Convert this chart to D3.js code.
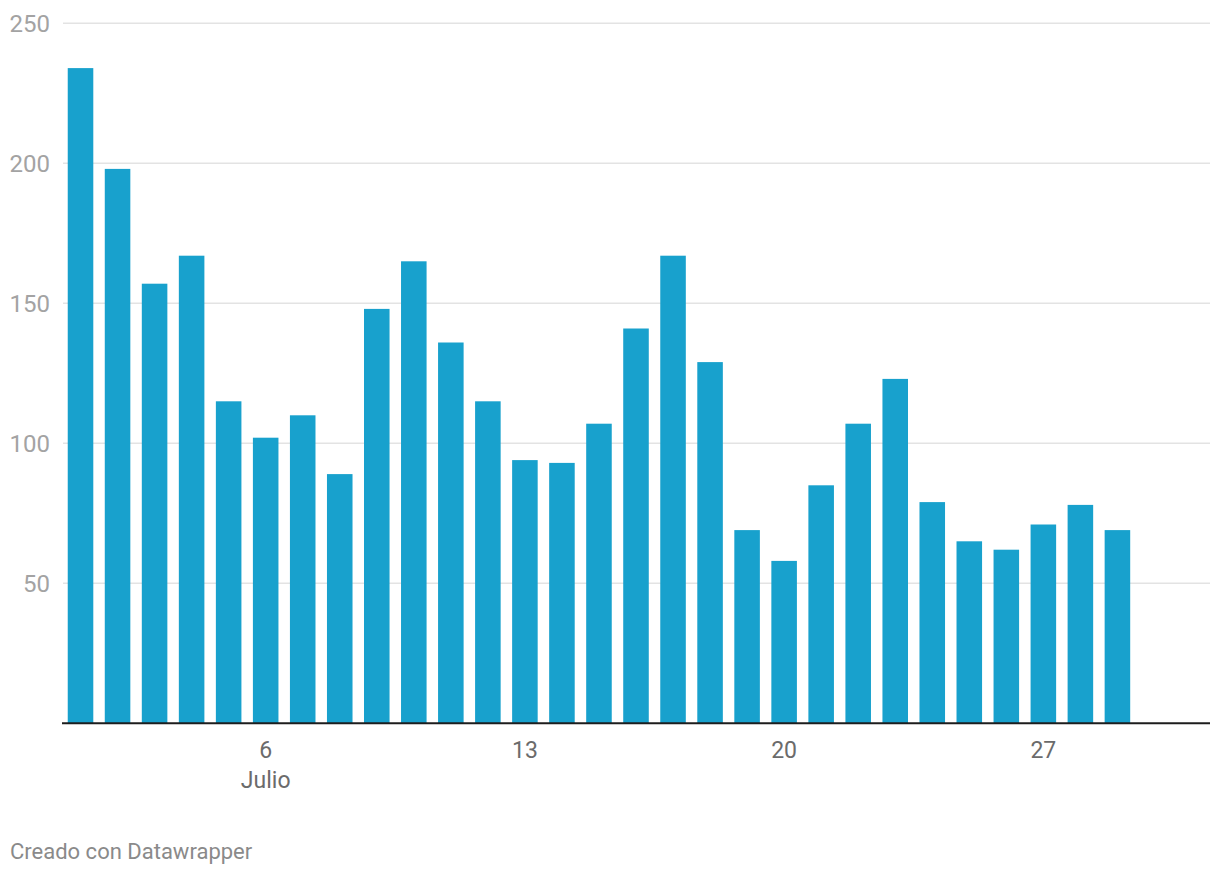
<!DOCTYPE html>
<html>
<head>
<meta charset="utf-8">
<script src="https://cdn.jsdelivr.net/npm/d3@7"></script>
<style>
  body { margin: 0; background: #fff; font-family: Roboto, "Noto Sans", sans-serif; }
</style>
</head>
<body>
<div id="chart"></div>
<script>
// daily values, July
var days = ["2020-07-01","2020-07-02","2020-07-03","2020-07-04","2020-07-05","2020-07-06","2020-07-07",
	"2020-07-08","2020-07-09","2020-07-10","2020-07-11","2020-07-12","2020-07-13","2020-07-14",
	"2020-07-15","2020-07-16","2020-07-17","2020-07-18","2020-07-19","2020-07-20","2020-07-21",
	"2020-07-22","2020-07-23","2020-07-24","2020-07-25","2020-07-26","2020-07-27","2020-07-28","2020-07-29"];
var values = [234, 198, 157, 167, 115, 102, 110, 89, 148, 165, 136, 115, 94, 93, 107,
	141, 167, 129, 69, 58, 85, 107, 123, 79, 65, 62, 71, 78, 69];
var yTicks = [50, 100, 150, 200, 250];
var xTickDays = ["2020-07-06", "2020-07-13", "2020-07-20", "2020-07-27"];
var monthLabel = "Julio";
var footer = "Creado con Datawrapper";

var width = 1220, height = 876;
var parse = d3.utcParse("%Y-%m-%d");
var data = days.map(function (d, i) { return { date: parse(d), value: values[i] }; });

// plot bounds (note: "top" is a reserved window prop, so use other names)
var plotLeft = 62, plotRight = 1210, plotTop = 23.3, plotBottom = 723.3;

var x = d3.scaleUtc()
	.domain([d3.utcHour.offset(parse("2020-07-01"), -12), d3.utcHour.offset(parse("2020-07-31"), 12)])
	.range([plotLeft, plotRight]);
var y = d3.scaleLinear().domain([0, 250]).range([plotBottom, plotTop]);

var dayW = x(parse("2020-07-02")) - x(parse("2020-07-01"));
var barW = dayW * 0.69;

var svg = d3.select('#chart').append('svg')
	.attr('width', width)
	.attr('height', height);

// gridlines + y labels
var grid = svg.append('g').attr('class', 'grid');
grid.selectAll('line').data(yTicks).enter().append('line')
	.attr('x1', plotLeft + 1).attr('x2', plotRight)
	.attr('y1', function (d) { return y(d); })
	.attr('y2', function (d) { return y(d); })
	.attr('stroke', '#e3e3e3')
	.attr('stroke-width', 1.5);
grid.selectAll('text').data(yTicks).enter().append('text')
	.attr('x', 50)
	.attr('y', function (d) { return y(d); })
	.attr('dy', '0.36em')
	.attr('text-anchor', 'end')
	.attr('fill', '#a3a3a3')
	.attr('font-size', 24)
	.text(function (d) { return d; });

// bars
svg.append('g').selectAll('rect').data(data).enter().append('rect')
	.attr('x', function (d) { return x(d.date) - barW / 2; })
	.attr('width', barW)
	.attr('y', function (d) { return y(d.value); })
	.attr('height', function (d) { return y(0) - y(d.value); })
	.attr('fill', '#18a1cd');

// baseline
svg.append('line')
	.attr('x1', plotLeft).attr('x2', plotRight)
	.attr('y1', y(0)).attr('y2', y(0))
	.attr('stroke', '#1d1d1d')
	.attr('stroke-width', 2);

// x labels
var xt = svg.append('g');
xt.selectAll('text').data(xTickDays).enter().append('text')
	.attr('x', function (d) { return x(parse(d)); })
	.attr('y', 758)
	.attr('text-anchor', 'middle')
	.attr('fill', '#6b6b6b')
	.attr('font-size', 23)
	.text(function (d) { return +d.slice(8); });
xt.append('text')
	.attr('x', x(parse(xTickDays[0])))
	.attr('y', 788)
	.attr('text-anchor', 'middle')
	.attr('fill', '#6b6b6b')
	.attr('font-size', 23)
	.text(monthLabel);

svg.append('text')
	.attr('x', 10)
	.attr('y', 859)
	.attr('fill', '#8a8a8a')
	.attr('font-size', 22)
	.text(footer);
</script>
</body>
</html>
